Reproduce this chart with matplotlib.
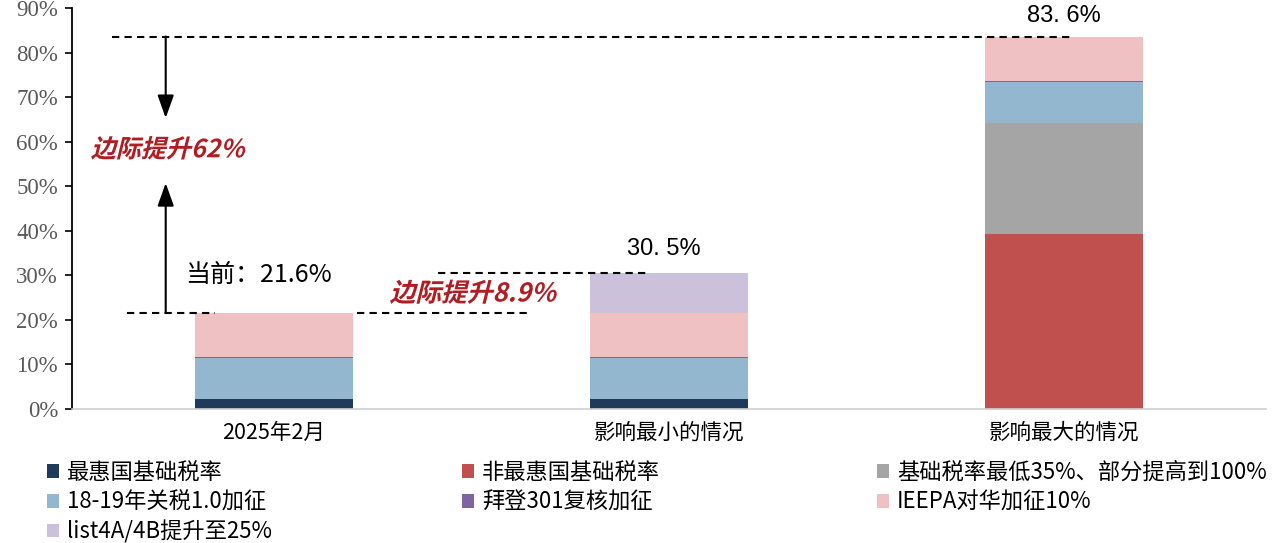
import numpy as np
import matplotlib
matplotlib.use("Agg")
import matplotlib.pyplot as plt
from matplotlib.textpath import TextPath
from matplotlib.patches import PathPatch
from matplotlib.font_manager import FontProperties
from matplotlib.transforms import Affine2D

plt.rcParams['font.family'] = ['Noto Sans CJK SC', 'DejaVu Sans']

categories = ["2025年2月", "影响最小的情况", "影响最大的情况"]

# stacked segments, bottom to top (in %)
series_names = ["最惠国基础税率", "非最惠国基础税率", "基础税率最低35%、部分提高到100%",
                "18-19年关税1.0加征", "拜登301复核加征", "IEEPA对华加征10%", "list4A/4B提升至25%"]
mfn = [2.2, 2.2, 0.0]
non_mfn = [0.0, 0.0, 39.2]
base_min = [0.0, 0.0, 25.0]
tariff_1819 = [9.2, 9.2, 9.2]
biden_301 = [0.2, 0.2, 0.2]
ieepa = [10.0, 10.0, 10.0]
list4ab = [0.0, 8.9, 0.0]
totals = [21.6, 30.5, 83.6]

colors = ["#203A5C", "#C0504D", "#A5A5A5", "#93B7CF", "#8064A2", "#EFC1C2", "#CBC1DA"]

fig = plt.figure(figsize=(12.8, 5.43), dpi=100)
ax = fig.add_axes([72 / 1280, 1 - 409 / 543, (1266 - 72) / 1280, (409 - 8) / 543])

x = np.arange(len(categories))
bottom = np.zeros(len(categories))
handles = []
for name, vals, c in zip(series_names,
                         [mfn, non_mfn, base_min, tariff_1819, biden_301, ieepa, list4ab],
                         colors):
    b = ax.bar(x, vals, 0.4, bottom=bottom, color=c, label=name, linewidth=0)
    handles.append(b)
    bottom += np.array(vals)

ax.set_xlim(-0.51, 2.51)
ax.set_ylim(0, 90)
ax.set_yticks(np.arange(0, 91, 10))
ax.set_yticklabels([f"{v}%" for v in range(0, 91, 10)], family="Liberation Serif",
                   fontsize=16.5, color="#595959")
ax.set_xticks(x)
ax.set_xticklabels(categories, fontsize=15.5)
ax.tick_params(axis='x', length=0, pad=9)
ax.tick_params(axis='y', length=5, width=1.2, direction='out', pad=5)
for s in ["top", "right"]:
    ax.spines[s].set_visible(False)
ax.spines["left"].set_color("black")
ax.spines["left"].set_linewidth(1.3)
ax.spines["bottom"].set_color("#D0D0D0")
ax.spines["bottom"].set_linewidth(1.2)

# total labels
ax.text(2, 88.3, "83. 6%", ha="center", va="center", fontsize=17, family="Liberation Sans")
ax.text(0.987, 36.0, "30. 5%", ha="center", va="center", fontsize=17, family="Liberation Sans")
ax.text(-0.225, 30.1, "当前：21.6%", ha="left", va="center", fontsize=18)

# dashed reference lines
dash = dict(color="black", linestyle=(0, (3.5, 2.5)), linewidth=1.5)
ax.plot([-0.408, 2.023], [totals[2], totals[2]], **dash)
ax.plot([-0.372, -0.149], [totals[0], totals[0]], **dash)
ax.plot([0.21, 0.64], [totals[0], totals[0]], **dash)
ax.plot([0.415, 0.947], [totals[1], totals[1]], **dash)

# arrows
arrow = dict(arrowstyle="-|>,head_width=0.5,head_length=1.4", color="black", lw=1.5,
             shrinkA=0, shrinkB=0)
ax.annotate("", xy=(-0.273, 65.3), xytext=(-0.273, totals[2]), arrowprops=arrow)
ax.annotate("", xy=(-0.273, 50.7), xytext=(-0.273, totals[0]), arrowprops=arrow)


def slanted_text(s, xd, yd, size, color):
    fp = FontProperties(family="Noto Sans CJK SC", weight="bold")
    tp = TextPath((0, 0), s, size=size, prop=fp)
    ext = tp.get_extents()
    px, py = ax.transData.transform((xd, yd))
    tr = (Affine2D().translate(-(ext.x0 + ext.width / 2), -(ext.y0 + ext.height / 2))
          .scale(fig.dpi / 72).skew_deg(14, 0).translate(px, py))
    patch = PathPatch(tp, transform=tr, color=color, lw=0)
    fig.patches.append(patch)
    patch.set_figure(fig)


slanted_text("边际提升62%", -0.263, 58.6, 18, "#B01E23")
slanted_text("边际提升8.9%", 0.509, 26.3, 18.5, "#B01E23")

# legend laid out in rows of three
order = [[0, 3, 6], [1, 4], [2, 5]]
col_x = [47 / 1280, 462 / 1280, 877 / 1280]
for cx, idx in zip(col_x, order):
    fig.legend([handles[i] for i in idx], [series_names[i] for i in idx],
               loc="upper left", bbox_to_anchor=(cx, 1 - 461 / 543), frameon=False,
               fontsize=16, handlelength=0.55, handleheight=0.55, handletextpad=0.35,
               labelspacing=0.3, borderpad=0, borderaxespad=0)

fig.savefig("out.png", dpi=100)
